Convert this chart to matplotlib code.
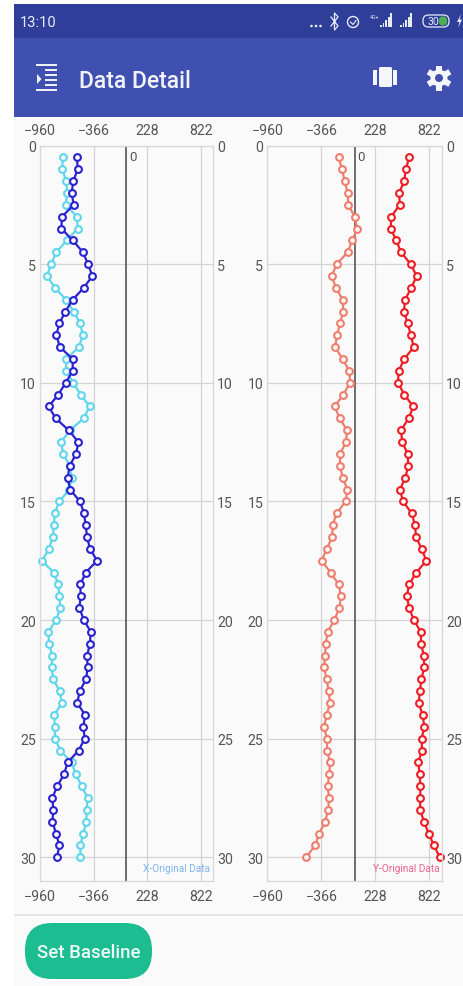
import matplotlib
matplotlib.use("Agg")
import matplotlib.pyplot as plt
from matplotlib.patches import Rectangle, FancyBboxPatch, Circle

W, H = 464, 987
plt.rcParams['font.family'] = ['Roboto', 'DejaVu Sans']

depth = [i * 0.5 for i in range(1, 61)]
x_light = [-708, -712, -671, -657, -675, -549, -542, -664, -779, -838, -882, -794, -671, -586, -516, -483, -531, -668, -671, -590,
           -509, -409, -475, -627, -727, -701, -631, -609, -634, -745, -797, -805, -819, -860, -938, -808, -757, -745, -734, -782,
           -868, -860, -823, -831, -812, -742, -716, -801, -797, -794, -734, -609, -564, -498, -431, -442, -446, -479, -512, -512]
x_dark = [-549, -542, -590, -609, -586, -716, -723, -597, -483, -427, -379, -475, -597, -679, -745, -779, -738, -597, -597, -675,
          -757, -864, -786, -642, -534, -560, -631, -653, -627, -516, -472, -453, -438, -405, -327, -453, -512, -509, -523, -472,
          -398, -405, -438, -431, -449, -520, -546, -460, -479, -464, -531, -653, -694, -768, -823, -812, -823, -782, -745, -771]
y_salmon = [-177, -140, -111, -78, -71, -1, 28, -27, -78, -199, -254, -206, -133, -126, -162, -195, -217, -133, -60, -52,
            -126, -221, -166, -85, -96, -162, -162, -133, -82, -100, -199, -243, -247, -309, -364, -265, -177, -151, -170, -225,
            -298, -320, -327, -338, -309, -287, -272, -309, -338, -305, -305, -272, -280, -298, -283, -291, -327, -390, -437, -533]
y_red = [597, 564, 542, 490, 494, 402, 395, 457, 509, 615, 681, 622, 553, 542, 582, 619, 648, 545, 483, 476,
         545, 644, 593, 509, 523, 582, 589, 556, 498, 531, 626, 663, 674, 736, 787, 677, 597, 575, 597, 652,
         725, 732, 758, 765, 732, 718, 703, 747, 765, 736, 740, 699, 714, 721, 721, 718, 762, 813, 872, 934]
x_ticks = [-960, -366, 228, 822]
y_ticks = [0, 5, 10, 15, 20, 25, 30]

fig = plt.figure(figsize=(W / 100, H / 100), dpi=100, facecolor='white')

# screen chrome in pixel coordinates
bg = fig.add_axes([0, 0, 1, 1])
bg.set_xlim(0, W)
bg.set_ylim(H, 0)
bg.axis('off')
bg.add_patch(Rectangle((14, 5), W - 14, H - 5, fc='#fafafa', ec='none'))
bg.add_patch(Rectangle((14, 5), W - 14, 34, fc='#2f3f99', ec='none'))
bg.add_patch(Rectangle((14, 39), W - 14, 79, fc='#3f50b1', ec='none'))
bg.add_patch(Rectangle((14, 915), W - 14, 1.5, fc='#e6e6e6', ec='none'))
bg.text(20, 23, '13:10', color='#e8eaf6', fontsize=10.5, va='center')
bg.text(79, 81, 'Data Detail', color='#f2f3fa', fontsize=16.5, va='center', fontweight='medium')

for y, x0 in [(66, 36), (71, 45), (76, 45), (81, 45), (86, 45), (91, 36)]:
    bg.add_patch(Rectangle((x0, y - 1), 57 - x0, 2, fc='#eef0fa', ec='none'))
bg.fill([37, 41.5, 37], [75, 80, 85], fc='#eef0fa', ec='none')

# wearable icon
bg.add_patch(FancyBboxPatch((379, 68), 13, 20, boxstyle='round,pad=0,rounding_size=1.5', fc='#f5f6fc', ec='none'))
bg.add_patch(Rectangle((373, 71), 4.5, 15, fc='#f5f6fc', ec='none'))
bg.add_patch(Rectangle((393.5, 71), 3.5, 15, fc='#f5f6fc', ec='none'))

# gear icon
gear = Circle((439, 79), 8.5, fc='#f5f6fc', ec='none')
bg.add_patch(gear)
for t in (0, 60, 120):
    bg.add_patch(Rectangle((439 - 3, 79 - 12.5), 6, 25, fc='#f5f6fc', ec='none',
                           transform=matplotlib.transforms.Affine2D().rotate_deg_around(439, 79, t) + bg.transData))
bg.add_patch(Circle((439, 79), 4, fc='#3f50b1', ec='none'))

# status bar icons
for x0 in (311.5, 316, 320.5):
    bg.add_patch(Circle((x0, 27), 1.3, fc='#e8eaf6', ec='none'))
bg.plot([331, 338, 334.5, 334.5, 338, 331], [18, 27, 31, 14, 18, 27], color='#e8eaf6', lw=0.9)
bg.add_patch(Circle((353, 23), 5.5, fc='none', ec='#e8eaf6', lw=1))
bg.plot([350.5, 353, 356], [23, 25.5, 21.5], color='#e8eaf6', lw=0.8)
bg.text(375, 17, '4G+', color='#e8eaf6', fontsize=3.8, ha='center', va='center')
for x0, n in ((380, 5), (400, 5)):
    for k, h in enumerate([2, 4, 7, 10, 14][:n]):
        bg.add_patch(Rectangle((x0 + k * 2.6, 28 - h), 1.8, h, fc='#e8eaf6', ec='none'))
bg.add_patch(FancyBboxPatch((423, 16), 26, 12, boxstyle='round,pad=0,rounding_size=5.5', fc='none', ec='#e8eaf6', lw=0.9))
bg.add_patch(FancyBboxPatch((439, 17.5), 8, 9, boxstyle='round,pad=0,rounding_size=3.5', fc='#4caf50', ec='none'))
bg.text(433, 22, '30', color='#e8eaf6', fontsize=7.5, ha='center', va='center')
bg.fill([461, 457, 459.5, 458, 462, 459.5], [15, 23, 23, 29, 20.5, 20.5], fc='#e8eaf6', ec='none')

bg.add_patch(FancyBboxPatch((25, 924), 127, 56, boxstyle='round,pad=0,rounding_size=27', fc='#1dbd92', ec='none'))
bg.text(88.5, 953, 'Set Baseline', color='#eefaf6', fontsize=13.4, ha='center', va='center', fontweight='medium')


def panel(left, right, series, legend, legend_color):
    ax = fig.add_axes([left / W, 1 - 882 / H, (right - left) / W, 735.5 / H])
    ax.set_facecolor('none')
    ax.set_xlim(-960, 960)
    ax.set_ylim(31, 0)
    ax.set_xticks(x_ticks)
    ax.set_yticks(y_ticks)
    ax.grid(True, color='#d4d4d4', lw=0.9)
    ax.set_axisbelow(True)
    for s in ax.spines.values():
        s.set_color('#d8d8d8')
        s.set_linewidth(0.9)
    ax.tick_params(length=0, labelsize=10.2, labelcolor='#555555',
                   labeltop=True, labelbottom=True, labelleft=True, labelright=True)
    ax.tick_params(axis='x', pad=6)
    ax.tick_params(axis='y', pad=3)
    ax.axvline(0, color='#555555', lw=1.2)
    ax.text(25, 0.45, '0', color='#555555', fontsize=9.5, ha='left', va='center')
    for values, color in series:
        ax.plot(values, depth, color=color, lw=1.6, marker='o', ms=4.9, mfc='#fafafa', mec=color, mew=1.5, clip_on=False)
    ax.text(0.985, 0.0115, legend, transform=ax.transAxes, color=legend_color, fontsize=7.3, ha='right', va='bottom')


panel(40, 213, [(x_light, '#5fd6ec'), (x_dark, '#2a22cf')], 'X-Original Data', '#7fb6ee')
panel(267.5, 442, [(y_salmon, '#ee7f6e'), (y_red, '#ee1c25')], 'Y-Original Data', '#e9648f')

fig.savefig('out.png', dpi=100, facecolor='white')
